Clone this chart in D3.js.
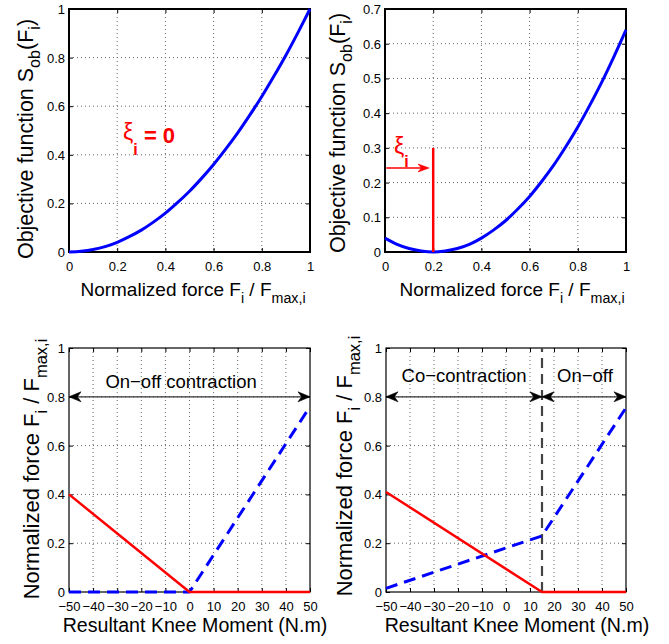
<!DOCTYPE html>
<html>
<head>
<meta charset="utf-8">
<script src="https://cdn.jsdelivr.net/npm/d3@7"></script>
<style>
  body { margin: 0; background: #fff; }
  svg { display: block; }
  text { font-family: "Liberation Sans", Arial, Helvetica, sans-serif; fill: #000; }
</style>
</head>
<body>
<svg id="fig" width="669" height="644"></svg>
<script>
// ---- objective function curves (top row) ----
const forceGrid = [0, 0.05, 0.1, 0.15, 0.2, 0.25, 0.3, 0.35, 0.4, 0.45, 0.5,
                   0.55, 0.6, 0.65, 0.7, 0.75, 0.8, 0.85, 0.9, 0.95, 1];
const objectiveNoThreshold = [0, 0.003, 0.01, 0.022, 0.04, 0.063, 0.09, 0.123, 0.16, 0.203, 0.25,
                              0.303, 0.36, 0.423, 0.49, 0.563, 0.64, 0.723, 0.81, 0.903, 1];
const objectiveThreshold = [0.04, 0.022, 0.01, 0.003, 0, 0.003, 0.01, 0.022, 0.04, 0.063, 0.09,
                            0.123, 0.16, 0.203, 0.25, 0.303, 0.36, 0.423, 0.49, 0.563, 0.64];
const xiThreshold = 0.2;
const xiMarkerTop = 0.3;
const xiArrowLevel = 0.242;
const xiArrowStart = 0.005;
const xiArrowEnd = 0.183;

const forceTicks = [0, 0.2, 0.4, 0.6, 0.8, 1];
const objectiveTicksA = [0, 0.2, 0.4, 0.6, 0.8, 1];
const objectiveTicksB = [0, 0.1, 0.2, 0.3, 0.4, 0.5, 0.6, 0.7];

// ---- muscle force vs knee moment (bottom row) ----
const momentTicks = [-50, -40, -30, -20, -10, 0, 10, 20, 30, 40, 50];
const normForceTicks = [0, 0.2, 0.4, 0.6, 0.8, 1];

const onOffMoment = [-50, 0, 50];
const onOffRed = [0.40, 0, 0];
const onOffBlue = [0, 0, 0.76];

const coMoment = [-50, 15, 50];
const coRed = [0.41, 0, 0];
const coBlue = [0.015, 0.23, 0.755];
const coSwitchMoment = 15;
const regimeArrowLevel = 0.8;

const svg = d3.select("#fig");
const FONT_TICK = 13;
const FONT_REGIME = 18.5;

function makeAxes(box, xDomain, yDomain, xTicks, yTicks, boxWidth, tickFmt) {
  const x = d3.scaleLinear().domain(xDomain).range([box.l, box.r]);
  const y = d3.scaleLinear().domain(yDomain).range([box.b, box.t]);
  const g = svg.append("g");

  // dotted grid
  const grid = g.append("g").attr("stroke", "#666").attr("stroke-width", 1)
    .attr("stroke-dasharray", "1,3").attr("fill", "none");
  xTicks.slice(1, -1).forEach(v => {
    grid.append("line").attr("x1", x(v)).attr("x2", x(v)).attr("y1", box.t).attr("y2", box.b);
  });
  yTicks.slice(1, -1).forEach(v => {
    grid.append("line").attr("x1", box.l).attr("x2", box.r).attr("y1", y(v)).attr("y2", y(v));
  });

  // axes through d3 axis generators, ticks pointing inward
  const fmt = tickFmt || (d => d3.format("~g")(d));
  const bottom = g.append("g").attr("transform", `translate(0,${box.b})`)
    .call(d3.axisBottom(x).tickValues(xTicks).tickSize(-4).tickPadding(10).tickFormat(fmt));
  const left = g.append("g").attr("transform", `translate(${box.l},0)`)
    .call(d3.axisLeft(y).tickValues(yTicks).tickSize(-4).tickPadding(4).tickFormat(fmt));
  g.append("g").attr("transform", `translate(0,${box.t})`)
    .call(d3.axisTop(x).tickValues(xTicks).tickSize(-4).tickFormat(""));
  g.append("g").attr("transform", `translate(${box.r},0)`)
    .call(d3.axisRight(y).tickValues(yTicks).tickSize(-4).tickFormat(""));
  g.selectAll(".domain").remove();
  g.selectAll(".tick line").attr("stroke", "#000").attr("stroke-width", 1);
  g.selectAll(".tick text").attr("font-size", FONT_TICK)
    .attr("font-family", "Liberation Sans, Arial, Helvetica, sans-serif").attr("fill", "#000");
  bottom.selectAll(".tick text").attr("dy", "0.71em").attr("y", 10);
  left.selectAll(".tick text").attr("dy", "0.35em");

  g.append("rect").attr("x", box.l).attr("y", box.t)
    .attr("width", box.r - box.l).attr("height", box.b - box.t)
    .attr("fill", "none").attr("stroke", "#000").attr("stroke-width", boxWidth);
  return { x, y, g };
}

function addText(parent, parts, attrs) {
  const t = parent.append("text");
  Object.entries(attrs).forEach(([k, v]) => t.attr(k, v));
  parts.forEach(p => {
    const s = t.append("tspan").text(p.t);
    if (p.size) s.attr("font-size", p.size);
    if (p.dy) s.attr("dy", p.dy);
    if (p.weight) s.attr("font-weight", p.weight);
  });
  return t;
}

// label text with subscripts; sub size and drop scale with the main size
function forceLabel(size) {
  const sub = size * 0.75, drop = size * 0.38;
  return [
    { t: "Normalized force F", size },
    { t: "i", size: sub, dy: drop },
    { t: " / F", size, dy: -drop },
    { t: "max,i", size: sub, dy: drop }
  ];
}
function objectiveLabel(size) {
  const sub = size * 0.75, drop = size * 0.32;
  return [
    { t: "Objective function S", size },
    { t: "ob", size: sub, dy: drop },
    { t: "(F", size, dy: -drop },
    { t: "i", size: sub, dy: drop },
    { t: ")", size, dy: -drop }
  ];
}
const momentLabel = [{ t: "Resultant Knee Moment (N.m)", size: 19.6 }];

function xLabel(parts, cx, baseline) {
  addText(svg, parts, { x: cx, y: baseline, "text-anchor": "middle" });
}
function yLabel(parts, baselineX, cy) {
  addText(svg, parts, {
    transform: `translate(${baselineX},${cy}) rotate(-90)`,
    "text-anchor": "middle"
  });
}

function drawLine(ax, xs, ys, color, width, dash, curve) {
  const pts = xs.map((v, i) => [v, ys[i]]);
  const gen = d3.line().x(d => ax.x(d[0])).y(d => ax.y(d[1]));
  if (curve) gen.curve(curve);
  const p = svg.append("path").datum(pts).attr("d", gen)
    .attr("fill", "none").attr("stroke", color).attr("stroke-width", width)
    .attr("stroke-linejoin", "round");
  if (dash) p.attr("stroke-dasharray", dash);
  return p;
}

function arrowHead(ax, xv, yv, dir, color, len, half) {
  const px = ax.x(xv), py = ax.y(yv);
  svg.append("path")
    .attr("d", `M${px},${py} L${px - dir * len},${py - half} L${px - dir * len * 0.7},${py} L${px - dir * len},${py + half} Z`)
    .attr("fill", color).attr("stroke", color).attr("stroke-width", 0.6).attr("stroke-linejoin", "miter");
}

function regimeArrow(ax, x0, x1, yv) {
  svg.append("line").attr("x1", ax.x(x0)).attr("x2", ax.x(x1))
    .attr("y1", ax.y(yv)).attr("y2", ax.y(yv))
    .attr("stroke", "#333").attr("stroke-width", 1.3);
  arrowHead(ax, x0, yv, -1, "#000", 12, 5);
  arrowHead(ax, x1, yv, 1, "#000", 12, 5);
}

// ---------- panel A: no threshold ----------
const A = makeAxes({ l: 69, r: 310, t: 9, b: 252 }, [0, 1], [0, 1], forceTicks, objectiveTicksA, 2);
drawLine(A, forceGrid, objectiveNoThreshold, "#0000ff", 3, null, d3.curveMonotoneX);
addText(svg, [
  { t: "ξ", size: 23, dy: -3 },
  { t: "i", size: 16, dy: 15, weight: "bold" },
  { t: " = 0", size: 22, dy: -12, weight: "bold" }
], { x: 123, y: A.y(0.449), style: "fill:#ff0000" });
xLabel(forceLabel(19), 193, 296);
yLabel(objectiveLabel(21.5), 33, 139);

// ---------- panel B: threshold xi ----------
const B = makeAxes({ l: 385, r: 626, t: 9, b: 252 }, [0, 1], [0, 0.7], forceTicks, objectiveTicksB, 2);
drawLine(B, forceGrid, objectiveThreshold, "#0000ff", 3, null, d3.curveMonotoneX);
drawLine(B, [xiThreshold, xiThreshold], [0, xiMarkerTop], "#ff0000", 2.5);
svg.append("line").attr("x1", B.x(xiArrowStart)).attr("x2", B.x(xiArrowEnd) - 6)
  .attr("y1", B.y(xiArrowLevel)).attr("y2", B.y(xiArrowLevel))
  .attr("stroke", "#ff0000").attr("stroke-width", 1.3);
arrowHead(B, xiArrowEnd, xiArrowLevel, 1, "#ff0000", 11, 4);
addText(svg, [
  { t: "ξ", size: 23, dy: -3 },
  { t: "i", size: 16, dy: 13, weight: "bold" }
], { x: 394, y: B.y(0.274), style: "fill:#ff0000" });
xLabel(forceLabel(19), 512, 296);
yLabel(objectiveLabel(21.5), 345, 133);

// ---------- panel C: on-off contraction ----------
const minusFmt = d => d3.format("~g")(d).replace("-", "\u2212");
const C = makeAxes({ l: 69, r: 310, t: 348, b: 592 }, [-50, 50], [0, 1], momentTicks, normForceTicks, 1.2, minusFmt);
drawLine(C, onOffMoment, onOffBlue, "#0000ff", 3, "12,7");
drawLine(C, onOffMoment, onOffRed, "#ff0000", 2.5);
regimeArrow(C, -50, 50, regimeArrowLevel);
addText(svg, [{ t: "On\u2212off contraction" }],
  { x: C.x(-3.5), y: C.y(0.836), "text-anchor": "middle", "font-size": FONT_REGIME });
xLabel(momentLabel, 195, 632);
yLabel(forceLabel(22), 38.5, 469);

// ---------- panel D: co-contraction then on-off ----------
const D = makeAxes({ l: 386, r: 626, t: 348, b: 592 }, [-50, 50], [0, 1], momentTicks, normForceTicks, 1.2, minusFmt);
drawLine(D, [coSwitchMoment, coSwitchMoment], [0, 1], "#444", 2.2, "10,6");
drawLine(D, coMoment, coBlue, "#0000ff", 3, "12,7");
drawLine(D, coMoment, coRed, "#ff0000", 2.5);
regimeArrow(D, -50, coSwitchMoment, regimeArrowLevel);
regimeArrow(D, coSwitchMoment, 50, regimeArrowLevel);
addText(svg, [{ t: "Co\u2212contraction" }],
  { x: D.x(-17.5), y: D.y(0.861), "text-anchor": "middle", "font-size": FONT_REGIME });
addText(svg, [{ t: "On\u2212off" }],
  { x: D.x(32.9), y: D.y(0.861), "text-anchor": "middle", "font-size": FONT_REGIME });
xLabel(momentLabel, 517, 632);
yLabel(forceLabel(22), 352, 466);
</script>
</body>
</html>
